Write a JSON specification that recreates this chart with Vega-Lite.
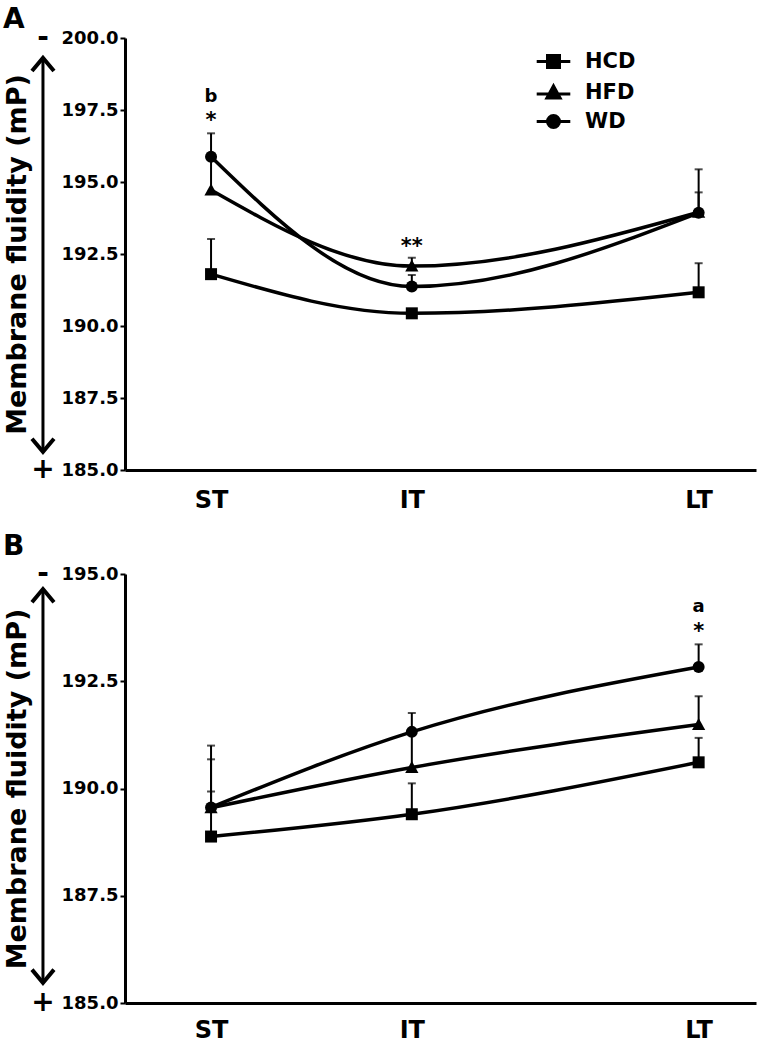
{
  "$schema": "https://vega.github.io/schema/vega-lite/v6.json",
  "padding": {"left": 3, "right": 3, "top": 6, "bottom": 0},
  "spacing": 21,
  "config": {
    "view": {"stroke": null},
    "font": "DejaVu Sans",
    "axis": {"domainColor": "black", "tickColor": "black", "labelColor": "black", "titleColor": "black", "labelFont": "DejaVu Sans", "titleFont": "DejaVu Sans", "labelFontWeight": "bold", "titleFontWeight": "bold", "grid": false},
    "title": {"font": "DejaVu Sans", "fontWeight": "bold", "color": "black"}
  },
  "datasets": {
    "obsA": [
      {"diet": "HCD", "time": "ST", "week": 3, "value": 191.8, "hi": 193.02},
      {"diet": "HCD", "time": "IT", "week": 10, "value": 190.44, "hi": 190.5},
      {"diet": "HCD", "time": "LT", "week": 20, "value": 191.17, "hi": 192.18},
      {"diet": "HFD", "time": "ST", "week": 3, "value": 194.72, "hi": 195.85},
      {"diet": "HFD", "time": "IT", "week": 10, "value": 192.08, "hi": 192.37},
      {"diet": "HFD", "time": "LT", "week": 20, "value": 193.95, "hi": 194.64},
      {"diet": "WD", "time": "ST", "week": 3, "value": 195.88, "hi": 196.69},
      {"diet": "WD", "time": "IT", "week": 10, "value": 191.37, "hi": 191.77},
      {"diet": "WD", "time": "LT", "week": 20, "value": 193.93, "hi": 195.44}
    ],
    "obsB": [
      {"diet": "HCD", "time": "ST", "week": 3, "value": 188.88, "hi": 189.93},
      {"diet": "HCD", "time": "IT", "week": 10, "value": 189.4, "hi": 190.12},
      {"diet": "HCD", "time": "LT", "week": 20, "value": 190.61, "hi": 191.18},
      {"diet": "HFD", "time": "ST", "week": 3, "value": 189.55, "hi": 190.68},
      {"diet": "HFD", "time": "IT", "week": 10, "value": 190.49, "hi": 191.3},
      {"diet": "HFD", "time": "LT", "week": 20, "value": 191.49, "hi": 192.15},
      {"diet": "WD", "time": "ST", "week": 3, "value": 189.56, "hi": 191.0},
      {"diet": "WD", "time": "IT", "week": 10, "value": 191.32, "hi": 191.76},
      {"diet": "WD", "time": "LT", "week": 20, "value": 192.83, "hi": 193.36}
    ],
    "notesA": [
      {"kind": "letter", "week": 3, "value": 197.78, "label": "b"},
      {"kind": "star", "week": 3, "value": 196.91, "label": "*"},
      {"kind": "star", "week": 10, "value": 192.53, "label": "**"}
    ],
    "notesB": [
      {"kind": "letter", "week": 20, "value": 194.11, "label": "a"},
      {"kind": "star", "week": 20, "value": 193.5, "label": "*"}
    ],
    "scaleA": [
      {"sign": "-", "week": -2.86, "value": 200},
      {"sign": "+", "week": -2.86, "value": 185}
    ],
    "scaleB": [
      {"sign": "-", "week": -2.86, "value": 195},
      {"sign": "+", "week": -2.86, "value": 185}
    ],
    "arrowA": [{"week": -2.86, "value": 199.31, "end": 185.63}],
    "arrowB": [{"week": -2.86, "value": 194.65, "end": 185.47}]
  },
  "resolve": {"scale": {"y": "independent", "shape": "independent"}, "legend": {"shape": "independent"}},
  "vconcat": [
    {
      "title": {"text": "A", "anchor": "start", "frame": "bounds", "fontSize": 28, "offset": -10},
      "width": 631,
      "height": 432,
      "data": {"name": "obsA"},
      "resolve": {"scale": {"shape": "independent"}},
      "encoding": {
        "x": {"field": "week", "type": "quantitative", "scale": {"domain": [0, 22], "nice": false, "zero": false},
          "axis": {"values": [3, 10, 20], "labelExpr": "datum.value == 3 ? 'ST' : datum.value == 10 ? 'IT' : 'LT'", "ticks": false, "labelFontSize": 24, "labelPadding": 18, "title": null, "domainWidth": 3, "labelFlush": false}},
        "y": {"field": "value", "type": "quantitative", "scale": {"domain": [185, 200], "nice": false, "zero": false},
          "axis": {"values": [185, 187.5, 190, 192.5, 195, 197.5, 200], "format": ".1f", "title": "Membrane fluidity (mP)", "titleFontSize": 27, "titlePadding": 30, "labelFontSize": 18, "labelPadding": 2, "tickSize": 5, "tickWidth": 2, "domainWidth": 3}}
      },
      "layer": [
        {"mark": {"type": "line", "interpolate": "monotone", "color": "black", "strokeWidth": 3.5}, "encoding": {"detail": {"field": "diet"}}},
        {"mark": {"type": "rule", "color": "black", "strokeWidth": 2}, "encoding": {"y2": {"field": "hi"}}},
        {"mark": {"type": "tick", "orient": "horizontal", "color": "black", "thickness": 2, "size": 8}, "encoding": {"y": {"field": "hi", "type": "quantitative"}}},
        {"mark": {"type": "point", "filled": true, "color": "black", "size": 144, "opacity": 1},
          "encoding": {"shape": {"field": "diet", "type": "nominal",
            "scale": {"domain": ["HCD", "HFD", "WD"], "range": ["square", "M0,-1.1L1.1,0.9H-1.1Z", "circle"]},
            "legend": null}}},
        {"mark": {"type": "point", "filled": true, "color": "black", "stroke": "black", "strokeWidth": 3, "size": 144, "opacity": 0},
          "encoding": {"shape": {"field": "diet", "type": "nominal",
            "scale": {"domain": ["HCD", "HFD", "WD"], "range": ["M-2.8,0H2.8M-1,-1H1V1H-1Z", "M-2.8,0.25H2.8M0,-1.1L1.1,0.9H-1.1Z", "M-2.8,0H2.8M1,0A1,1,0,1,1,-1,0A1,1,0,1,1,1,0Z"]},
            "legend": {"title": null, "orient": "none", "legendX": 418, "legendY": 13, "padding": 0, "labelFont": "DejaVu Sans", "labelFontSize": 21, "labelFontWeight": "bold", "labelColor": "black", "symbolOpacity": 1, "symbolStrokeWidth": 3, "symbolSize": 144, "labelOffset": 21, "rowPadding": 5}}}},
        {"data": {"name": "notesA"}, "transform": [{"filter": "datum.kind === 'letter'"}], "mark": {"type": "text", "fontSize": 18, "fontWeight": "bold", "baseline": "alphabetic", "color": "black"}, "encoding": {"text": {"field": "label"}}},
        {"data": {"name": "notesA"}, "transform": [{"filter": "datum.kind === 'star'"}], "mark": {"type": "text", "fontSize": 21, "fontWeight": "bold", "baseline": "alphabetic", "color": "black"}, "encoding": {"text": {"field": "label"}}},
        {"data": {"name": "scaleA"}, "mark": {"type": "text", "fontSize": 28, "fontWeight": "bold", "baseline": "middle", "color": "black"}, "encoding": {"text": {"field": "sign"}}},
        {"data": {"name": "arrowA"}, "mark": {"type": "rule", "color": "black", "strokeWidth": 3}, "encoding": {"y2": {"field": "end"}}},
        {"data": {"name": "arrowA"}, "mark": {"type": "point", "shape": "M-1,1.2L0,0L1,1.2", "size": 484, "filled": false, "strokeWidth": 4, "color": "black", "opacity": 1, "strokeJoin": "miter"}, "encoding": {}},
        {"data": {"name": "arrowA"}, "mark": {"type": "point", "shape": "M-1,-1.2L0,0L1,-1.2", "size": 484, "filled": false, "strokeWidth": 4, "color": "black", "opacity": 1, "strokeJoin": "miter"}, "encoding": {"y": {"field": "end", "type": "quantitative"}}}
      ]
    },
    {
      "title": {"text": "B", "anchor": "start", "frame": "bounds", "fontSize": 28, "offset": -1},
      "width": 631,
      "height": 429,
      "data": {"name": "obsB"},
      "encoding": {
        "x": {"field": "week", "type": "quantitative", "scale": {"domain": [0, 22], "nice": false, "zero": false},
          "axis": {"values": [3, 10, 20], "labelExpr": "datum.value == 3 ? 'ST' : datum.value == 10 ? 'IT' : 'LT'", "ticks": false, "labelFontSize": 24, "labelPadding": 15, "title": null, "domainWidth": 3, "labelFlush": false}},
        "y": {"field": "value", "type": "quantitative", "scale": {"domain": [185, 195], "nice": false, "zero": false},
          "axis": {"values": [185, 187.5, 190, 192.5, 195], "format": ".1f", "title": "Membrane fluidity (mP)", "titleFontSize": 27, "titlePadding": 30, "labelFontSize": 18, "labelPadding": 2, "tickSize": 5, "tickWidth": 2, "domainWidth": 3}}
      },
      "layer": [
        {"mark": {"type": "line", "interpolate": "monotone", "color": "black", "strokeWidth": 3.5}, "encoding": {"detail": {"field": "diet"}}},
        {"mark": {"type": "rule", "color": "black", "strokeWidth": 2}, "encoding": {"y2": {"field": "hi"}}},
        {"mark": {"type": "tick", "orient": "horizontal", "color": "black", "thickness": 2, "size": 8}, "encoding": {"y": {"field": "hi", "type": "quantitative"}}},
        {"mark": {"type": "point", "filled": true, "color": "black", "size": 144, "opacity": 1},
          "encoding": {"shape": {"field": "diet", "type": "nominal",
            "scale": {"domain": ["HCD", "HFD", "WD"], "range": ["square", "M0,-1.1L1.1,0.9H-1.1Z", "circle"]},
            "legend": null}}},
        {"data": {"name": "notesB"}, "transform": [{"filter": "datum.kind === 'letter'"}], "mark": {"type": "text", "fontSize": 18, "fontWeight": "bold", "baseline": "alphabetic", "color": "black"}, "encoding": {"text": {"field": "label"}}},
        {"data": {"name": "notesB"}, "transform": [{"filter": "datum.kind === 'star'"}], "mark": {"type": "text", "fontSize": 21, "fontWeight": "bold", "baseline": "alphabetic", "color": "black"}, "encoding": {"text": {"field": "label"}}},
        {"data": {"name": "scaleB"}, "mark": {"type": "text", "fontSize": 28, "fontWeight": "bold", "baseline": "middle", "color": "black"}, "encoding": {"text": {"field": "sign"}}},
        {"data": {"name": "arrowB"}, "mark": {"type": "rule", "color": "black", "strokeWidth": 3}, "encoding": {"y2": {"field": "end"}}},
        {"data": {"name": "arrowB"}, "mark": {"type": "point", "shape": "M-1,1.2L0,0L1,1.2", "size": 484, "filled": false, "strokeWidth": 4, "color": "black", "opacity": 1, "strokeJoin": "miter"}, "encoding": {}},
        {"data": {"name": "arrowB"}, "mark": {"type": "point", "shape": "M-1,-1.2L0,0L1,-1.2", "size": 484, "filled": false, "strokeWidth": 4, "color": "black", "opacity": 1, "strokeJoin": "miter"}, "encoding": {"y": {"field": "end", "type": "quantitative"}}}
      ]
    }
  ]
}
